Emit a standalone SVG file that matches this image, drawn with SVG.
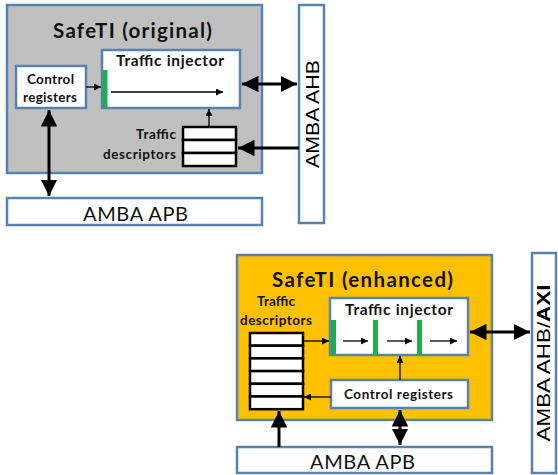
<svg xmlns="http://www.w3.org/2000/svg" width="558" height="475" viewBox="0 0 558 475">
<defs>
<style>
.box{stroke:#5a82b0;stroke-width:2.5}
.w{fill:#fff}
.t{font-family:Lato,"Open Sans",sans-serif;fill:#111}
.b{font-weight:bold}
.thin{stroke:#000;stroke-width:1.3;fill:none}
.thick{stroke:#000;stroke-width:3;fill:none}
.stack{fill:#fff;stroke:#000;stroke-width:2.5}
.green{fill:#1fae4e}
</style>
<marker id="ah" viewBox="0 0 10 10" refX="10" refY="5" markerWidth="7" markerHeight="7" markerUnits="userSpaceOnUse" orient="auto-start-reverse"><path d="M0,0L10,5L0,10z" fill="#000"/></marker>
<marker id="AH" viewBox="0 0 10 10" refX="10" refY="5" markerWidth="5.5" markerHeight="5.5" orient="auto-start-reverse"><path d="M0,0L10,5L0,10z" fill="#000"/></marker>
</defs>

<!-- top diagram -->
<g id="safeti-original">
<rect class="box" x="7" y="5" width="255" height="168" fill="#c0c0c0"/>
<text class="t b" x="53" y="38" font-size="20.5" textLength="159" lengthAdjust="spacing">SafeTI (original)</text>
</g>
<g id="ti-original">
<rect class="box w" x="102" y="50" width="138" height="58"/>
<rect class="green" x="102.5" y="70" width="5" height="37"/>
<text class="t b" x="116" y="66" font-size="15.5" textLength="108" lengthAdjust="spacing">Traffic injector</text>
<line class="thin" x1="111" y1="92" x2="223" y2="92" marker-end="url(#ah)"/>
</g>
<g id="cr-original">
<rect class="box w" x="16" y="66" width="70" height="42"/>
<text class="t b" x="27" y="84" font-size="13.5" textLength="47" lengthAdjust="spacing">Control</text>
<text class="t b" x="23" y="102" font-size="13.5" textLength="54" lengthAdjust="spacing">registers</text>
</g>
<g id="td-original">
<rect class="stack" x="183" y="127" width="53" height="13"/>
<rect class="stack" x="183" y="140" width="53" height="13"/>
<rect class="stack" x="183" y="153" width="53" height="13"/>
<text class="t b" x="136" y="139" font-size="13.5" textLength="40" lengthAdjust="spacing">Traffic</text>
<text class="t b" x="103" y="159" font-size="13.5" textLength="73" lengthAdjust="spacing">descriptors</text>
</g>
<g id="apb-top">
<rect class="box w" x="7" y="198" width="255" height="27"/>
<text class="t" x="83" y="221" font-size="20" textLength="105" lengthAdjust="spacing">AMBA APB</text>
</g>
<g id="ahb-top">
<rect class="box w" x="299" y="5" width="25" height="218"/>
<text x="319" y="114" font-family="'Liberation Sans',Arial,sans-serif" font-size="19" text-anchor="middle" transform="rotate(-90 319 114)" textLength="108" lengthAdjust="spacingAndGlyphs">AMBA AHB</text>
</g>

<!-- bottom diagram -->
<g id="safeti-enhanced">
<rect class="box" x="237" y="255" width="255" height="165" fill="#ffc000"/>
<text class="t b" x="272" y="287" font-size="20.5" textLength="181" lengthAdjust="spacing">SafeTI (enhanced)</text>
</g>
<g id="td-enhanced">
<text class="t b" x="257" y="306" font-size="13.5" textLength="38" lengthAdjust="spacing">Traffic</text>
<text class="t b" x="240" y="325" font-size="13.5" textLength="72" lengthAdjust="spacing">descriptors</text>
<rect class="stack" x="250" y="333" width="53" height="12.7"/>
<rect class="stack" x="250" y="345.7" width="53" height="12.7"/>
<rect class="stack" x="250" y="358.4" width="53" height="12.7"/>
<rect class="stack" x="250" y="371.1" width="53" height="12.7"/>
<rect class="stack" x="250" y="383.8" width="53" height="12.7"/>
<rect class="stack" x="250" y="396.5" width="53" height="12.7"/>
</g>
<g id="ti-enhanced">
<rect class="box w" x="330" y="298" width="138" height="57"/>
<text class="t b" x="345" y="315" font-size="15.5" textLength="108" lengthAdjust="spacing">Traffic injector</text>
<rect class="green" x="331" y="320" width="5" height="35"/>
<rect class="green" x="373" y="320" width="5" height="35"/>
<rect class="green" x="417" y="320" width="5" height="35"/>
<line class="thin" x1="343" y1="341" x2="368" y2="341" marker-end="url(#ah)"/>
<line class="thin" x1="387" y1="341" x2="412" y2="341" marker-end="url(#ah)"/>
<line class="thin" x1="430" y1="341" x2="457" y2="341" marker-end="url(#ah)"/>
</g>
<g id="cr-enhanced">
<rect class="box w" x="331" y="380" width="137" height="28"/>
<text class="t b" x="344" y="399" font-size="13.5" textLength="109" lengthAdjust="spacing">Control registers</text>
</g>
<g id="apb-bottom">
<rect class="box w" x="237" y="447" width="255" height="26"/>
<text class="t" x="310" y="469" font-size="20" textLength="105" lengthAdjust="spacing">AMBA APB</text>
</g>
<g id="axi">
<rect class="box w" x="532" y="253" width="24" height="220"/>
<text x="550" y="363" font-family="'Liberation Sans',Arial,sans-serif" font-size="19" text-anchor="middle" transform="rotate(-90 550 363)" textLength="157" lengthAdjust="spacingAndGlyphs">AMBA AHB/<tspan font-weight="bold">AXI</tspan></text>
</g>

<g id="connectors">
<line class="thin" x1="86" y1="87" x2="101" y2="87" marker-end="url(#ah)"/>
<line class="thin" x1="209" y1="127" x2="209" y2="109" marker-end="url(#ah)"/>
<line class="thick" x1="49" y1="110" x2="49" y2="196" marker-start="url(#AH)" marker-end="url(#AH)"/>
<line class="thick" x1="242" y1="84" x2="297" y2="84" marker-start="url(#AH)" marker-end="url(#AH)"/>
<line class="thick" x1="299" y1="148" x2="238" y2="148" marker-end="url(#AH)"/>
<line class="thin" x1="304" y1="341" x2="329" y2="341" marker-end="url(#ah)"/>
<line class="thin" x1="400" y1="380" x2="400" y2="356" marker-end="url(#ah)"/>
<line class="thin" x1="331" y1="397" x2="304" y2="397" marker-end="url(#ah)"/>
<line class="thick" x1="279" y1="447" x2="279" y2="411" marker-end="url(#AH)"/>
<line class="thick" x1="400" y1="410" x2="400" y2="445" marker-start="url(#AH)" marker-end="url(#AH)"/>
<line class="thick" x1="470" y1="332" x2="530" y2="332" marker-start="url(#AH)" marker-end="url(#AH)"/>
</g>
</svg>
